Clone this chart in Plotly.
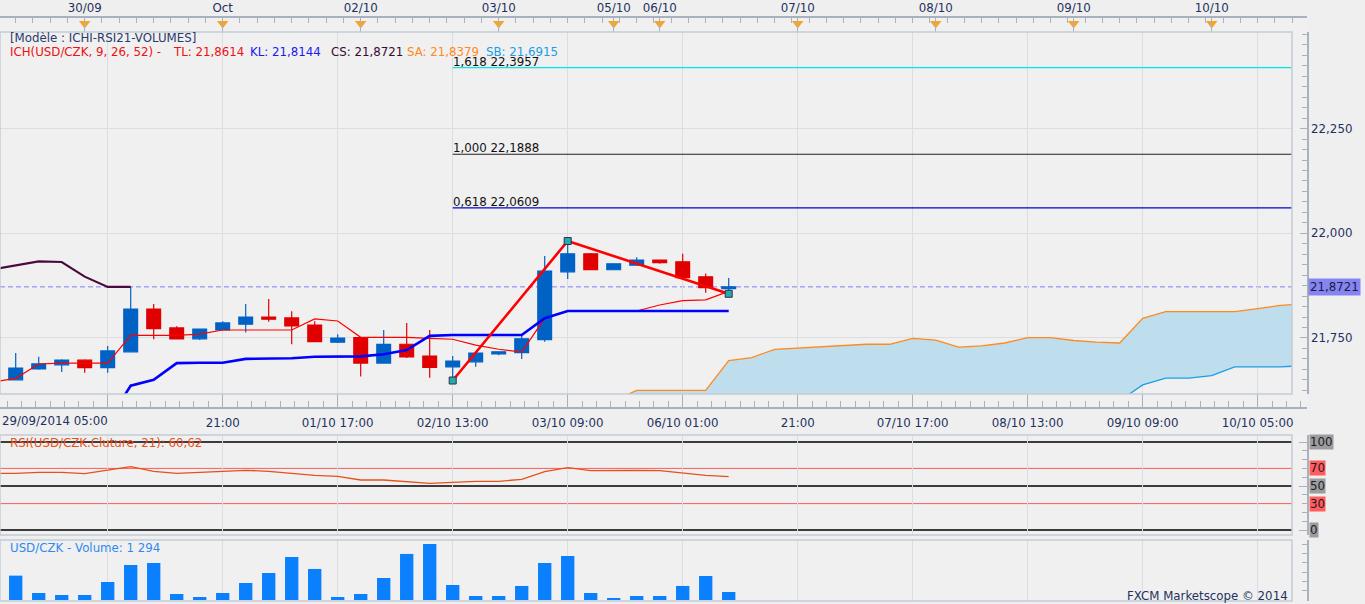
import plotly.graph_objects as go

# ------------------------------------------------------------------ data
candle_idx = list(range(32))
opens = [21.650, 21.676, 21.686, 21.697, 21.679, 21.717, 21.819, 21.774, 21.748, 21.769,
         21.783, 21.800, 21.798, 21.781, 21.740, 21.751, 21.690, 21.735, 21.707, 21.681,
         21.693, 21.712, 21.715, 21.746, 21.908, 21.951, 21.913, 21.924, 21.936, 21.932,
         21.896, 21.868]
highs = [21.714, 21.705, 21.699, 21.699, 21.731, 21.872, 21.831, 21.778, 21.772, 21.790,
         21.831, 21.843, 21.814, 21.790, 21.759, 21.752, 21.769, 21.786, 21.769, 21.707,
         21.716, 21.718, 21.757, 21.946, 21.982, 21.953, 21.927, 21.943, 21.937, 21.951,
         21.904, 21.893]
lows = [21.649, 21.674, 21.669, 21.667, 21.667, 21.716, 21.747, 21.748, 21.745, 21.768,
        21.763, 21.789, 21.735, 21.740, 21.738, 21.658, 21.689, 21.702, 21.655, 21.649,
        21.681, 21.709, 21.700, 21.741, 21.891, 21.912, 21.913, 21.923, 21.927, 21.891,
        21.858, 21.855]
closes = [21.678, 21.688, 21.697, 21.679, 21.719, 21.819, 21.772, 21.748, 21.771, 21.786,
          21.800, 21.795, 21.779, 21.741, 21.750, 21.690, 21.735, 21.705, 21.680, 21.695,
          21.714, 21.717, 21.748, 21.910, 21.951, 21.913, 21.927, 21.936, 21.930, 21.894,
          21.870, 21.8721]
volumes = [3940, 1130, 810, 810, 2910, 5660, 5990, 970, 490, 1130,
           2750, 4370, 6960, 5020, 490, 970, 3560, 7450, 9060, 2430,
           650, 650, 2270, 5990, 7120, 1130, 215, 650, 650, 2270,
           3880, 1294]

line_idx = list(range(-1, 32))
tenkan = [21.645, 21.6535, 21.6878, 21.690, 21.690, 21.690, 21.7563, 21.7563, 21.7563, 21.759,
          21.769, 21.769, 21.769, 21.769, 21.7955, 21.7905, 21.7516, 21.7516, 21.7516, 21.749,
          21.747, 21.733, 21.723, 21.716, 21.797, 21.8144, 21.8144, 21.8144, 21.8144, 21.8287,
          21.839, 21.841, 21.8614]
rsi = [64.4, 64.4, 65.5, 65.5, 64.0, 68.2, 72.0, 66.7, 64.4, 65.5,
       66.7, 67.8, 66.7, 64.4, 62.1, 61.0, 56.8, 56.8, 54.9, 53.0,
       54.2, 55.3, 55.3, 57.6, 66.3, 70.8, 67.4, 67.8, 67.8, 67.4,
       64.4, 62.1, 60.62]

kijun_idx = list(range(4, 32))
kijun = [21.55, 21.636, 21.650, 21.690, 21.691, 21.691, 21.700, 21.700, 21.7015, 21.705,
         21.705, 21.706, 21.711, 21.721, 21.755, 21.757, 21.757, 21.757, 21.757, 21.797,
         21.8144, 21.8144, 21.8144, 21.8144, 21.8144, 21.8144, 21.8144, 21.8144]

chikou_idx = list(range(-1, 6))
chikou = [21.914, 21.9236, 21.933, 21.9315, 21.8965, 21.872, 21.8721]

cloud_idx = list(range(26, 57))
senkou_a = [21.600, 21.625, 21.625, 21.625, 21.625, 21.696, 21.703, 21.723, 21.726, 21.730,
            21.733, 21.735, 21.735, 21.749, 21.745, 21.728, 21.731, 21.738, 21.751, 21.751,
            21.744, 21.740, 21.738, 21.797, 21.813, 21.813, 21.813, 21.813, 21.820, 21.828,
            21.831]
senkou_b = [21.600, 21.600, 21.600, 21.600, 21.600, 21.600, 21.600, 21.600, 21.600, 21.600,
            21.600, 21.600, 21.600, 21.600, 21.600, 21.600, 21.600, 21.600, 21.600, 21.600,
            21.600, 21.600, 21.600, 21.638, 21.654, 21.654, 21.660, 21.681, 21.681, 21.681,
            21.684]
sa_current = 21.8379
sb_current = 21.6915

zigzag_idx = [19, 24, 31]
zigzag_val = [21.6484, 21.9816, 21.8556]

fib_ratios = ["0,618", "1,000", "1,618"]
fib_values = [22.0609, 22.1888, 22.3957]

bottom_tick_idx = [4, 9, 14, 19, 24, 29, 34, 39, 44, 49, 54]
bottom_tick_text = ["", "21:00", "01/10 17:00", "02/10 13:00", "03/10 09:00", "06/10 01:00",
                    "21:00", "07/10 17:00", "08/10 13:00", "09/10 09:00", "10/10 05:00"]
first_bottom_label = "29/09/2014 05:00"
top_tick_idx = [3, 9, 15, 21, 26, 28, 34, 40, 46, 52]
top_tick_text = ["30/09", "Oct", "02/10", "03/10", "05/10", "06/10", "07/10", "08/10", "09/10", "10/10"]
price_ticks = [21.75, 22.0, 22.25]
price_tick_text = ["21,750", "22,000", "22,250"]
rsi_levels = [100, 70, 50, 30, 0]

# ------------------------------------------------------------------ geometry
W, H = 1365, 604
M_T, M_R = 18, 58
PAPER_W = W - M_R
PAPER_H = H - M_T


def pxx(px):
    return px / PAPER_W


def pyy(px):
    return (H - px) / PAPER_H


BAR_PX = 23.0
FIRST_PX = 15.7
PLOT_RIGHT_PX = 1292
X_LO = -FIRST_PX / BAR_PX
X_HI_MAIN = X_LO + PLOT_RIGHT_PX / BAR_PX
X_HI_FULL = X_LO + PAPER_W / BAR_PX

Y_MAIN = [21.6162, 22.4808]
Y_RSI = [-5.68, 107.95]
Y_VOL = [-162, 9705]

main_dom = [pyy(394), pyy(32)]
top_dom = [pyy(32), 1.0]
bot_dom = [pyy(407), pyy(394)]
rsi_dom = [pyy(535), pyy(435)]
vol_dom = [pyy(601), pyy(540)]
x_main_dom = [0, pxx(PLOT_RIGHT_PX)]
x_strip_dom = [pxx(PLOT_RIGHT_PX), 1.0]

FONT = "DejaVu Sans"
FS = 11.8
AXC = "#A9B1BE"
TXT = "#24305E"
GRID = "#DCDDE1"


def fmt(v, n=4):
    return f"{v:.{n}f}".replace(".", ",")


fig = go.Figure()

# ------------------------------------------------------------------ main panel
fig.add_trace(go.Scatter(x=cloud_idx, y=senkou_b, mode="lines",
                         line=dict(color="#1A9EE6", width=1.3), hoverinfo="skip"))
fig.add_trace(go.Scatter(x=cloud_idx, y=senkou_a, mode="lines",
                         line=dict(color="#FF8A1C", width=1.3),
                         fill="tonexty", fillcolor="#BEDDED", hoverinfo="skip"))

fig.add_trace(go.Candlestick(
    x=candle_idx, open=opens, high=highs, low=lows, close=closes,
    increasing=dict(line=dict(color="#0062C4", width=1.2), fillcolor="#0062C4"),
    decreasing=dict(line=dict(color="#E00000", width=1.2), fillcolor="#E00000"),
    whiskerwidth=0, hoverinfo="skip"))

fib_colors = ["#0000DD", "#222222", "#00E8E8"]
for val, col in zip(fib_values, fib_colors):
    fig.add_trace(go.Scatter(x=[zigzag_idx[0], X_HI_MAIN], y=[val, val], mode="lines",
                             line=dict(color=col, width=1.2), hoverinfo="skip"))

fig.add_trace(go.Scatter(x=chikou_idx, y=chikou, mode="lines",
                         line=dict(color="#4A0A3E", width=2.2), hoverinfo="skip"))
fig.add_trace(go.Scatter(x=line_idx, y=tenkan, mode="lines",
                         line=dict(color="#FF0000", width=1.2), hoverinfo="skip"))
fig.add_trace(go.Scatter(x=kijun_idx, y=kijun, mode="lines",
                         line=dict(color="#0000FF", width=2.6), hoverinfo="skip"))
fig.add_trace(go.Scatter(x=zigzag_idx, y=zigzag_val, mode="lines+markers",
                         line=dict(color="#FF0000", width=2.6),
                         marker=dict(symbol="square", size=7, color="#22ADAA",
                                     line=dict(color="#2E3050", width=1)),
                         hoverinfo="skip"))

# ------------------------------------------------------------------ RSI panel
fig.add_trace(go.Scatter(x=line_idx, y=rsi, mode="lines", xaxis="x", yaxis="y2",
                         line=dict(color="#E8501A", width=1.3), hoverinfo="skip"))

# ------------------------------------------------------------------ volume panel
fig.add_trace(go.Bar(x=candle_idx, y=volumes, width=0.58, xaxis="x", yaxis="y3",
                     marker=dict(color="#0A80FF", line=dict(width=0)), hoverinfo="skip"))

# ------------------------------------------------------------------ axis strips
fig.add_trace(go.Scatter(x=top_tick_idx, y=[0.6] * len(top_tick_idx), mode="markers",
                         xaxis="x2", yaxis="y4", hoverinfo="skip",
                         marker=dict(symbol="triangle-down", size=10, color="#F8A424",
                                     line=dict(width=0))))
for xa, ya in [("x3", "y5"), ("x4", "y6"), ("x4", "y7"), ("x4", "y8")]:
    fig.add_trace(go.Scatter(x=[-100], y=[-100000], mode="markers", xaxis=xa, yaxis=ya,
                             marker=dict(opacity=0), hoverinfo="skip"))

# ------------------------------------------------------------------ shapes
shapes = []
for ref in ["y", "y2", "y3"]:
    shapes.append(dict(type="rect", xref="x domain", yref=f"{ref} domain",
                       x0=0, x1=1, y0=0, y1=1, line=dict(color="#C3CBD6", width=1.5),
                       layer="above"))
shapes.append(dict(type="line", xref="x domain", yref="y", x0=0, x1=1,
                   y0=closes[-1], y1=closes[-1], layer="below",
                   line=dict(color="#8080FF", width=1, dash="5px,3px")))
for lev in rsi_levels:
    col = "#FF5A5A" if lev in (70, 30) else "#000000"
    wid = 1 if lev in (70, 30) else 1.5
    shapes.append(dict(type="line", xref="x domain", yref="y2", x0=0, x1=1,
                       y0=lev, y1=lev, layer="below", line=dict(color=col, width=wid)))

# ------------------------------------------------------------------ annotations
ann = []
ann.append(dict(text="[Modèle : ICHI-RSI21-VOLUMES]", x=pxx(8), y=pyy(38),
                xref="paper", yref="paper", xanchor="left", yanchor="middle",
                showarrow=False, font=dict(color="#2B3A6B", size=FS, family=FONT)))
header = [
    (8, "ICH(USD/CZK, 9, 26, 52) -", "#EE1111"),
    (171, "TL: " + fmt(tenkan[-1]), "#EE1111"),
    (248, "KL: " + fmt(kijun[-1]), "#1A1AEE"),
    (328.6, "CS: " + fmt(closes[-1]), "#3A0A30"),
    (404.5, "SA: " + fmt(sa_current), "#FF8A1A"),
    (483.5, "SB: " + fmt(sb_current), "#1C9DE8"),
]
for xp, t, c in header:
    ann.append(dict(text=t, x=pxx(xp), y=pyy(52), xref="paper", yref="paper",
                    xanchor="left", yanchor="middle", showarrow=False,
                    font=dict(color=c, size=FS, family=FONT)))
for r, v in zip(fib_ratios, fib_values):
    ann.append(dict(text=f"{r} {fmt(v)}", x=zigzag_idx[0], y=v, xref="x", yref="y",
                    xanchor="left", yanchor="bottom", showarrow=False, xshift=-2,
                    yshift=-3, font=dict(color="#111111", size=FS, family=FONT)))
ann.append(dict(text=f"RSI(USD/CZK.Cluture, 21): {fmt(rsi[-1], 2)}", x=pxx(8), y=pyy(443),
                xref="paper", yref="paper", xanchor="left", yanchor="middle",
                showarrow=False, font=dict(color="#E8501A", size=FS, family=FONT)))
for lev in rsi_levels:
    bg = "#FF5C5C" if lev in (70, 30) else "#9C9C9C"
    ann.append(dict(text=str(lev), x=pxx(1309), y=lev, xref="paper", yref="y2",
                    xanchor="left", yanchor="middle", showarrow=False, bgcolor=bg,
                    borderpad=0, font=dict(color="#1A1A2A", size=FS, family=FONT)))
ann.append(dict(text=fmt(closes[-1]), x=pxx(1308), y=closes[-1], xref="paper", yref="y",
                xanchor="left", yanchor="middle", showarrow=False, bgcolor="#8585F2",
                borderpad=1, font=dict(color="#1A1A44", size=FS, family=FONT)))
vol_txt = f"{volumes[-1]:,}".replace(",", " ")
ann.append(dict(text=f"USD/CZK - Volume: {vol_txt}", x=pxx(8), y=pyy(548),
                xref="paper", yref="paper", xanchor="left", yanchor="middle",
                showarrow=False, font=dict(color="#2F8AEF", size=FS, family=FONT)))
ann.append(dict(text="FXCM Marketscope © 2014", x=pxx(1290), y=pyy(596),
                xref="paper", yref="paper", xanchor="right", yanchor="middle",
                showarrow=False, font=dict(color=TXT, size=FS, family=FONT)))
ann.append(dict(text=first_bottom_label, x=0, y=pyy(421), xref="paper", yref="paper",
                xanchor="left", yanchor="middle", showarrow=False,
                font=dict(color=TXT, size=FS, family=FONT)))

tickfont = dict(color=TXT, size=FS, family=FONT)
base_hidden = dict(showgrid=False, zeroline=False, showticklabels=False, ticks="",
                   showline=False, fixedrange=True, automargin=False)

fig.update_layout(
    template="none",
    width=W, height=H,
    margin=dict(l=0, r=M_R, t=M_T, b=0, pad=0),
    paper_bgcolor="#EFEFEF", plot_bgcolor="#F0F0F0",
    font=dict(family=FONT, size=FS, color=TXT),
    showlegend=False, boxgap=0.4, boxgroupgap=0,
    shapes=shapes, annotations=ann,
    xaxis=dict(domain=x_main_dom, range=[X_LO, X_HI_MAIN], anchor="y",
               tickmode="array", tickvals=bottom_tick_idx, showticklabels=False,
               ticks="", showgrid=True, gridcolor=GRID, gridwidth=1, zeroline=False,
               showline=False, fixedrange=True, automargin=False,
               rangeslider=dict(visible=False)),
    yaxis=dict(domain=main_dom, range=Y_MAIN, anchor="x", tickmode="array",
               tickvals=price_ticks, showticklabels=False, ticks="", showgrid=True,
               gridcolor=GRID, zeroline=False, showline=False, fixedrange=True,
               automargin=False),
    yaxis2=dict(domain=rsi_dom, range=Y_RSI, anchor="x", **base_hidden),
    yaxis3=dict(domain=vol_dom, range=Y_VOL, anchor="x", **base_hidden),
    xaxis2=dict(domain=[0, 1], range=[X_LO, X_HI_FULL], anchor="y4", side="top",
                tickmode="array", tickvals=top_tick_idx, ticktext=top_tick_text,
                ticks="inside", ticklen=14, tickcolor=AXC, tickwidth=1,
                showline=True, linecolor=AXC, linewidth=1.5, showgrid=False,
                zeroline=False, tickfont=tickfont, fixedrange=True, automargin=False,
                minor=dict(tickmode="linear", tick0=3, dtick=0.75, ticks="inside",
                           ticklen=5, tickcolor=AXC, showgrid=False)),
    yaxis4=dict(domain=top_dom, range=[0, 1], anchor="x2", visible=False, fixedrange=True),
    xaxis3=dict(domain=[0, 1], range=[X_LO, X_HI_FULL], anchor="y5", side="bottom",
                tickmode="array", tickvals=bottom_tick_idx, ticktext=bottom_tick_text,
                ticks="inside", ticklen=13, tickcolor=AXC, tickwidth=1,
                showline=True, linecolor=AXC, linewidth=1.5, showgrid=False,
                zeroline=False, tickfont=tickfont, ticklabelstandoff=4,
                fixedrange=True, automargin=False,
                minor=dict(tickmode="linear", tick0=4, dtick=0.625, ticks="inside",
                           ticklen=6, tickcolor=AXC, showgrid=False)),
    yaxis5=dict(domain=bot_dom, range=[0, 1], anchor="x3", visible=False, fixedrange=True),
    xaxis4=dict(domain=x_strip_dom, range=[0, 1], anchor="y6", visible=False, fixedrange=True),
    yaxis6=dict(domain=main_dom, range=Y_MAIN, anchor="x4", side="right",
                tickmode="array", tickvals=price_ticks, ticktext=price_tick_text,
                ticks="inside", ticklen=7, tickcolor=AXC, showline=True, linecolor=AXC,
                linewidth=1.5, showgrid=False, zeroline=False, tickfont=tickfont,
                fixedrange=True, automargin=False,
                minor=dict(tickmode="linear", tick0=21.75, dtick=0.025, ticks="inside",
                           ticklen=5, tickcolor=AXC, showgrid=False)),
    yaxis7=dict(domain=rsi_dom, range=Y_RSI, anchor="x4", side="right",
                tickmode="array", tickvals=[0, 50, 100], showticklabels=False,
                ticks="inside", ticklen=8, tickcolor=AXC, showline=True, linecolor=AXC,
                linewidth=1.5, showgrid=False, zeroline=False, fixedrange=True,
                automargin=False,
                minor=dict(tickmode="linear", tick0=0, dtick=10, ticks="inside",
                           ticklen=5, tickcolor=AXC, showgrid=False)),
    yaxis8=dict(domain=vol_dom, range=Y_VOL, anchor="x4", side="right",
                tickmode="array", tickvals=[0], ticktext=["0"],
                ticks="inside", ticklen=7, tickcolor=AXC, showline=True, linecolor=AXC,
                linewidth=1.5, showgrid=False, zeroline=False, tickfont=tickfont,
                fixedrange=True, automargin=False,
                minor=dict(tickmode="linear", tick0=0, dtick=1500, ticks="inside",
                           ticklen=5, tickcolor=AXC, showgrid=False)),
)

fig.write_html("out.html", config=dict(displayModeBar=False),
               post_script="document.body.style.margin='0px';"
                           "document.body.style.overflow='hidden';")
